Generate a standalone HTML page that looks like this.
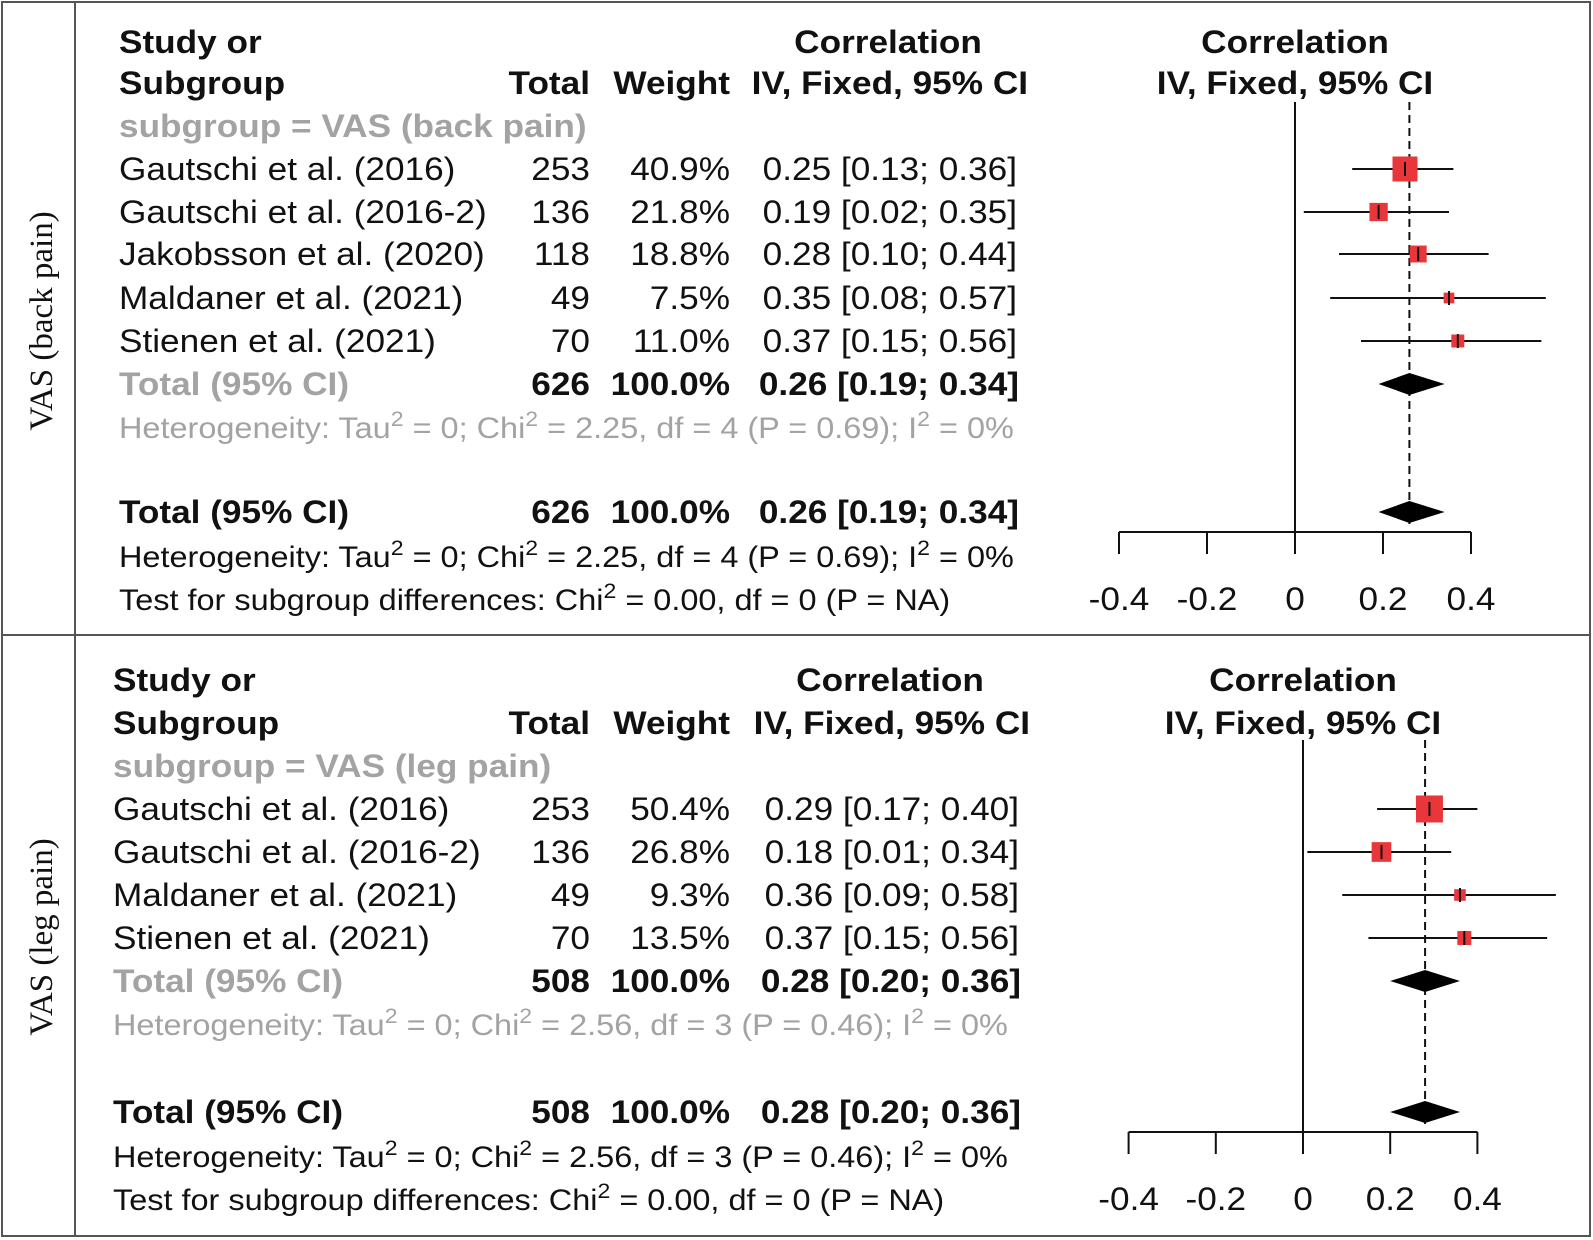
<!DOCTYPE html>
<html><head><meta charset="utf-8"><style>
html,body{margin:0;padding:0;background:#fff}
svg{display:block;font-family:"Liberation Sans",Arial,sans-serif}
</style></head><body>
<svg id="chart" width="1593" height="1240" viewBox="0 0 1593 1240" xmlns="http://www.w3.org/2000/svg">
<rect x="2" y="2" width="1588" height="1234" fill="none" stroke="#555" stroke-width="2"/>
<line x1="2" y1="635" x2="1590" y2="635" stroke="#555" stroke-width="2"/>
<line x1="75" y1="2" x2="75" y2="1236" stroke="#555" stroke-width="2"/>
<g id="layer"></g>
</svg>
<script>
// Panel 1: VAS (back pain)
const backStudies = ["Gautschi et al. (2016)","Gautschi et al. (2016-2)","Jakobsson et al. (2020)","Maldaner et al. (2021)","Stienen et al. (2021)"];
const backTotals = [253,136,118,49,70];
const backWeights = [40.9,21.8,18.8,7.5,11.0];
const backEst = [0.25,0.19,0.28,0.35,0.37];
const backLo = [0.13,0.02,0.10,0.08,0.15];
const backHi = [0.36,0.35,0.44,0.57,0.56];
const backPooled = [0.26,0.19,0.34];
const backN = 626;
const backHet = ["0","2.25","4","0.69","0%"];
// Panel 2: VAS (leg pain)
const legStudies = ["Gautschi et al. (2016)","Gautschi et al. (2016-2)","Maldaner et al. (2021)","Stienen et al. (2021)"];
const legTotals = [253,136,49,70];
const legWeights = [50.4,26.8,9.3,13.5];
const legEst = [0.29,0.18,0.36,0.37];
const legLo = [0.17,0.01,0.09,0.15];
const legHi = [0.40,0.34,0.58,0.56];
const legPooled = [0.28,0.20,0.36];
const legN = 508;
const legHet = ["0","2.56","3","0.46","0%"];
const tickVals = [-0.4,-0.2,0,0.2,0.4];
const tickLabels = ["-0.4","-0.2","0","0.2","0.4"];

const NS="http://www.w3.org/2000/svg";
const layer=document.getElementById('layer');
const SX=1.1;
function mk(tag,attrs,parent){const e=document.createElementNS(NS,tag);for(const k in attrs)e.setAttribute(k,attrs[k]);(parent||layer).appendChild(e);return e;}
function txt(x,y,s,opt,parent){
  opt=opt||{};
  const t=mk('text',{x:0,y:0,'font-size':opt.size||32,'font-weight':opt.bold?'bold':'normal',fill:opt.fill||'#111','text-anchor':opt.anchor||'start',transform:'translate('+x+' '+y+') scale('+SX+' 1)'},parent);
  t.innerHTML=s;return t;
}
const GRAY='#a3a3a3';
function sup(s){return '<tspan dy="-12" font-size="21">'+s+'</tspan><tspan dy="12"> </tspan>';}
function het(h){return 'Heterogeneity: Tau'+sup('2')+'= '+h[0]+'; Chi'+sup('2')+'= '+h[1]+', df = '+h[2]+' (P = '+h[3]+'); I'+sup('2')+'= '+h[4];}
function f2(v){return v.toFixed(2);}

function panel(cfg){
  const g=mk('g',{});
  
  
  const R=cfg.rows, L=cfg.left;
  const off=11;
  let t;
  t=txt(L,R[0]+off,'Study or',{bold:true},g);  
  t=txt(L,R[1]+off,'Subgroup',{bold:true},g);  
  t=txt(590,R[1]+off,'Total',{bold:true,anchor:'end'},g);  
  t=txt(730,R[1]+off,'Weight',{bold:true,anchor:'end'},g);  
  t=txt(cfg.corrC,R[0]+off,'Correlation',{bold:true,anchor:'middle'},g);  
  t=txt(cfg.ciR+9,R[1]+off,'IV, Fixed, 95% CI',{bold:true,anchor:'end'},g);  
  t=txt(cfg.zero,R[0]+off,'Correlation',{bold:true,anchor:'middle'},g);  
  t=txt(cfg.zero,R[1]+off,'IV, Fixed, 95% CI',{bold:true,anchor:'middle'},g);  
  t=txt(L,R[2]+off,cfg.sub,{bold:true,fill:GRAY},g);  
  t=mk('text',{x:41,y:cfg.labelY,dy:11,'font-size':33,'font-family':'"Liberation Serif",serif','text-anchor':'middle',fill:'#111',transform:'rotate(-90 41 '+cfg.labelY+')'},g);
  t.textContent=cfg.side;
   

  const X=v=>cfg.zero+v*cfg.scale;
  const n=cfg.studies.length;
  const maxW=Math.max(...cfg.weights);
  let ln=mk('line',{x1:X(0),y1:cfg.nullTop,x2:X(0),y2:cfg.axisY,stroke:'#111','stroke-width':2},g);
   
  ln=mk('line',{x1:X(cfg.pooled[0]),y1:cfg.nullTop,x2:X(cfg.pooled[0]),y2:R[n+6]+12,stroke:'#111','stroke-width':2,'stroke-dasharray':'8,5'},g);
   
  for(let i=0;i<n;i++){
    const y=R[3+i];
    t=txt(L,y+off,cfg.studies[i],{},g);  
    t=txt(590,y+off,String(cfg.totals[i]),{anchor:'end'},g);  
    t=txt(730,y+off,cfg.weights[i].toFixed(1)+'%',{anchor:'end'},g);  
    t=txt(cfg.ciR-2,y+off,f2(cfg.est[i])+' ['+f2(cfg.lo[i])+'; '+f2(cfg.hi[i])+']',{anchor:'end'},g);  
    const ci=mk('line',{x1:X(cfg.lo[i]),y1:y,x2:X(cfg.hi[i]),y2:y,stroke:'#111','stroke-width':2},g);
     
    const s=cfg.sq*Math.sqrt(cfg.weights[i]/maxW);
    const sq=mk('rect',{x:X(cfg.est[i])-s/2,y:y-s/2,width:s,height:s,fill:'#e8363a'},g);
     
    const tk=mk('line',{x1:X(cfg.est[i]),y1:y-7,x2:X(cfg.est[i]),y2:y+7,stroke:'#111','stroke-width':2},g);
     
  }
  const yS=R[3+n], yH=R[4+n], yT=R[6+n], yH2=R[7+n], yTest=R[8+n];
  const nStr=String(cfg.N), pStr=f2(cfg.pooled[0])+' ['+f2(cfg.pooled[1])+'; '+f2(cfg.pooled[2])+']';
  [[yS,GRAY,'subgroup-total'],[yT,'#111','overall-total']].forEach(([y,c,nm])=>{
    t=txt(L,y+off,'Total (95% CI)',{bold:true,fill:c},g);  
    t=txt(590,y+off,nStr,{bold:true,anchor:'end'},g);  
    t=txt(730,y+off,'100.0%',{bold:true,anchor:'end'},g);  
    t=txt(cfg.ciR,y+off,pStr,{bold:true,anchor:'end'},g);  
    const d=mk('polygon',{points:X(cfg.pooled[1])+','+y+' '+X(cfg.pooled[0])+','+(y-11)+' '+X(cfg.pooled[2])+','+y+' '+X(cfg.pooled[0])+','+(y+11),fill:'#000'},g);
     
  });
  t=txt(L,yH+off,het(cfg.het),{fill:GRAY,size:29.5},g);  
  t=txt(L,yH2+off,het(cfg.het),{size:29.5},g);  
  t=txt(L,yTest+off,'Test for subgroup differences: Chi'+sup('2')+'= 0.00, df = 0 (P = NA)',{size:29.5},g);  
  const ax=mk('line',{x1:X(tickVals[0]),y1:cfg.axisY,x2:X(tickVals[tickVals.length-1]),y2:cfg.axisY,stroke:'#111','stroke-width':2},g);
   
  tickVals.forEach((v,i)=>{
    const tk=mk('line',{x1:X(v),y1:cfg.axisY,x2:X(v),y2:cfg.axisY+22,stroke:'#111','stroke-width':2},g);
     
    const tl=txt(X(v),yTest+off,tickLabels[i],{anchor:'middle'},g);
     
  });
}
panel({name:'back-pain-panel',side:'VAS (back pain)',sub:'subgroup = VAS (back pain)',left:119,
  rows:[42,83,126,169,212,254,298,341,384,427,470,512,556,599],labelY:321,
  studies:backStudies,totals:backTotals,weights:backWeights,est:backEst,lo:backLo,hi:backHi,pooled:backPooled,N:backN,het:backHet,
  zero:1295,scale:440,axisY:532,nullTop:102,sq:25,corrC:888,ciR:1019});
panel({name:'leg-pain-panel',side:'VAS (leg pain)',sub:'subgroup = VAS (leg pain)',left:113,
  rows:[680,723,766,809,852,895,938,981,1024,1068,1112,1156,1199],labelY:937,
  studies:legStudies,totals:legTotals,weights:legWeights,est:legEst,lo:legLo,hi:legHi,pooled:legPooled,N:legN,het:legHet,
  zero:1303,scale:436,axisY:1132,nullTop:740,sq:27,corrC:890,ciR:1021});
</script>
</body></html>
